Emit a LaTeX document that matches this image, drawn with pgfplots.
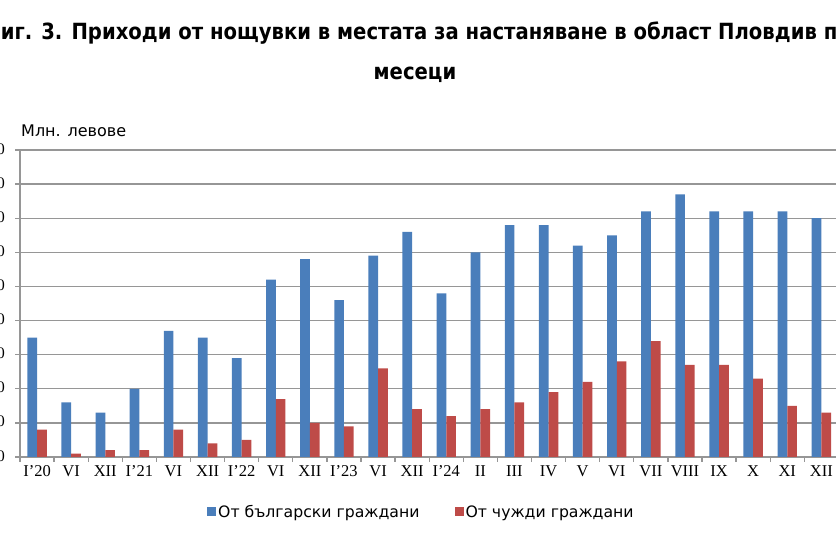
\documentclass[border=0pt]{standalone}
\usepackage{pgfplots}
\pgfplotsset{compat=1.18}
\usepackage{pgfplotstable}
\usepackage{fontspec}
\setmainfont{Liberation Serif}
\newfontfamily\titlefont[FakeStretch=0.88]{DejaVu Sans Bold}
\newfontfamily\labfont{DejaVu Sans}
\definecolor{cblue}{RGB}{74,126,187}
\definecolor{cred}{RGB}{190,75,72}
\definecolor{cgrid}{RGB}{150,150,150}

\pgfplotstableread{
x bg fr
0 3.5 0.8
1 1.6 0.1
2 1.3 0.2
3 2.0 0.2
4 3.7 0.8
5 3.5 0.4
6 2.9 0.5
7 5.2 1.7
8 5.8 1.0
9 4.6 0.9
10 5.9 2.6
11 6.6 1.4
12 4.8 1.2
13 6.0 1.4
14 6.8 1.6
15 6.8 1.9
16 6.2 2.2
17 6.5 2.8
18 7.2 3.4
19 7.7 2.7
20 7.2 2.7
21 7.2 2.3
22 7.2 1.5
23 7.0 1.3
}\data

\pgfplotsset{sq legend/.style={legend image code/.code={\fill[##1] (0bp,-4.5bp) rectangle (9bp,4.5bp);}}}

\begin{document}
\begin{tikzpicture}
\begin{scope}
\clip (0bp,0bp) rectangle (836bp,546bp);
\begin{axis}[
  at={(20bp,89bp)}, anchor=south west, scale only axis,
  width=818.4bp, height=307bp,
  xmin=-0.5, xmax=23.5, ymin=0, ymax=9,
  ybar=0pt, bar width=9.7bp,
  axis x line*=bottom, axis y line*=left,
  axis line style={-, draw=cgrid, line width=1.3bp},
  tick align=outside, tick pos=left,
  major tick length=5bp,
  tick style={draw=cgrid, line width=1.3bp},
  ymajorgrids, grid style={draw=cgrid, line width=1.3bp},
  ytick={0,1,...,9},
  yticklabels={{0,0},{1,0},{2,0},{3,0},{4,0},{5,0},{6,0},{7,0},{8,0},{9,0}},
  yticklabel style={font=\fontsize{16bp}{19bp}\selectfont, anchor=east, inner sep=0pt, xshift=-10bp},
  xtick={-0.5,0.5,...,23.5},
  xticklabels={},
  extra x ticks={0,1,...,23},
  extra x tick labels={I'20,VI,XII,I'21,VI,XII,I'22,VI,XII,I'23,VI,XII,I'24,II,III,IV,V,VI,VII,VIII,IX,X,XI,XII},
  extra x tick style={tick style={draw=none}, grid=none,
    tick label style={font=\fontsize{16.5bp}{19bp}\selectfont, anchor=north, inner sep=0pt, yshift=-3bp}},
  legend style={at={(0.2248,-0.179)}, anchor=west, draw=none, fill=none,
    font=\labfont\fontsize{15.7bp}{18bp}\selectfont, legend columns=2,
    /tikz/every even column/.append style={column sep=33bp}},
]
\addplot[fill=cblue, draw=none, sq legend] table[x=x, y=bg] {\data};
\addlegendentry{От български граждани}
\addplot[fill=cred, draw=none, sq legend] table[x=x, y=fr] {\data};
\addlegendentry{От чужди граждани}
\end{axis}
\node[anchor=base west, inner sep=0pt] at (21bp,409bp) {\labfont\fontsize{16bp}{19bp}\selectfont Млн. левове};
\node[anchor=base, inner sep=0pt] at (416bp,506bp) {\titlefont\fontsize{22.3bp}{26bp}\selectfont Фиг. 3. Приходи от нощувки в местата за настаняване в област Пловдив по};
\node[anchor=base, inner sep=0pt] at (415bp,466bp) {\titlefont\fontsize{22.3bp}{26bp}\selectfont месеци};
\end{scope}
\pgfresetboundingbox
\useasboundingbox (0bp,0bp) rectangle (836bp,546bp);
\end{tikzpicture}
\end{document}
